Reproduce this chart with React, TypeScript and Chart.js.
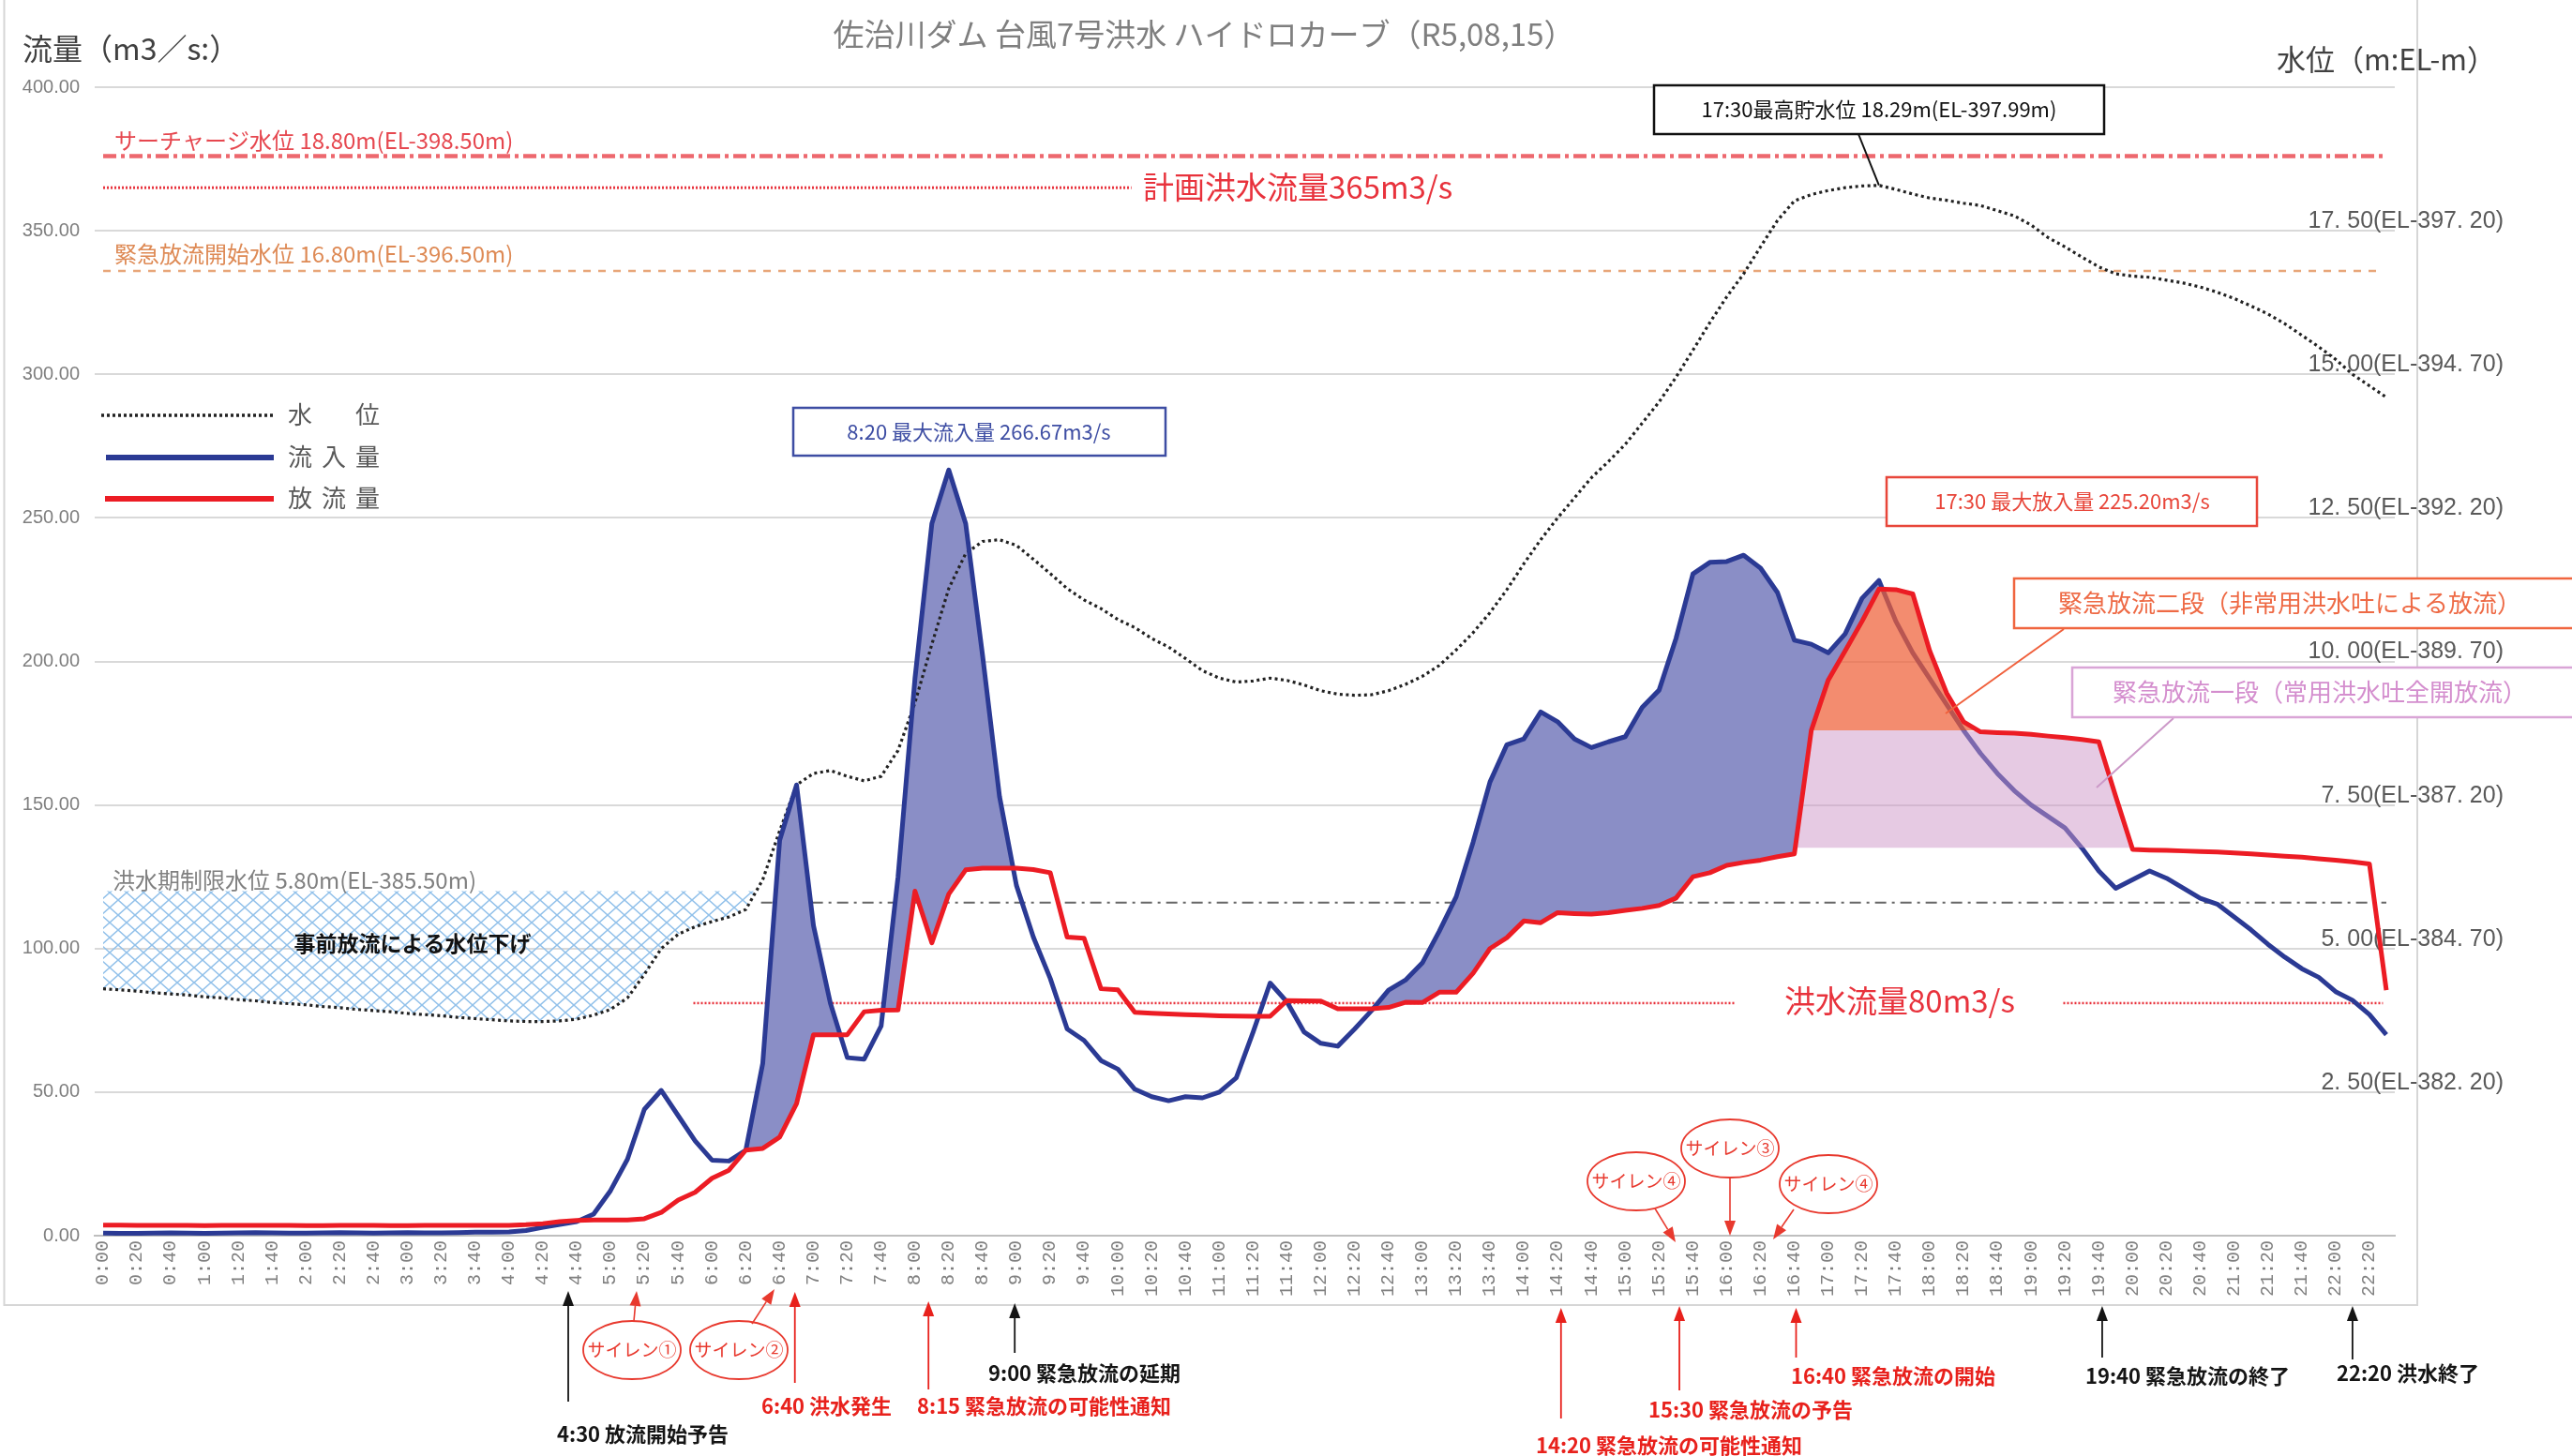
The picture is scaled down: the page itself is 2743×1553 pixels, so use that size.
import React, { useEffect, useRef } from "react";
import { Chart, registerables } from "chart.js";

Chart.register(...registerables);

const CANVAS_W = 2743;
const CANVAS_H = 1553;

// ---------- categories: 10-minute steps 0:00 .. 22:30 ----------
const timeLabels: string[] = [];
for (let h = 0; h <= 22; h++) {
  for (let m = 0; m < 60; m += 10) {
    if (h === 22 && m > 30) break;
    timeLabels.push(`${h}:${m === 0 ? "00" : m}`);
  }
}

// ---------- series (m3/s) ----------
const inflow: number[] = [
  0.9, 0.8, 0.8, 0.9, 1.0, 0.9, 0.8, 0.9, 1.0, 1.1,
  1.0, 0.9, 0.9, 1.0, 1.1, 1.0, 0.9, 1.0, 1.1, 1.0,
  1.0, 1.1, 1.2, 1.2, 1.3, 1.8, 2.9, 3.9, 4.9, 7.5,
  15.7, 26.6, 44.0, 50.6, 41.8, 33.0, 26.3, 26.0, 29.8, 60.0,
  137.7, 157.0, 108.0, 81.0, 62.0, 61.5, 73.0, 125.0, 194.0, 248.0,
  266.67, 248.0, 202.0, 153.0, 122.0, 104.0, 89.6, 72.0, 68.0, 61.0,
  58.0, 51.0, 48.4, 47.0, 48.4, 48.0, 50.0, 55.0, 71.0, 88.0,
  81.4, 71.0, 67.0, 66.0, 72.0, 78.4, 85.5, 89.0, 95.0, 106.0,
  118.0, 137.0, 158.0, 171.0, 173.0, 182.4, 179.0, 173.0, 170.0, 172.0,
  173.8, 184.0, 190.0, 208.0, 230.5, 234.5, 234.8, 237.0, 232.5, 224.0,
  207.4, 206.0, 203.0, 209.6, 222.0, 228.2, 214.0, 203.0, 194.0, 185.0,
  176.0, 168.0, 161.0, 155.0, 150.0, 146.0, 142.0, 135.0, 127.0, 121.0,
  124.0, 127.0, 124.5, 121.0, 117.5, 115.5, 111.0, 106.5, 101.5, 97.0,
  93.0, 90.0, 85.0, 82.0, 77.0, 70.0,
];

const outflow: number[] = [
  3.7, 3.7, 3.6, 3.6, 3.6, 3.6, 3.5, 3.6, 3.6, 3.6,
  3.6, 3.6, 3.5, 3.5, 3.6, 3.6, 3.6, 3.5, 3.5, 3.6,
  3.6, 3.6, 3.6, 3.6, 3.6, 3.8, 4.2, 4.9, 5.3, 5.5,
  5.5, 5.5, 5.9, 8.1, 12.4, 15.1, 20.0, 22.8, 29.8, 30.4,
  34.3, 46.0, 70.0, 70.0, 70.0, 78.0, 78.5, 78.6, 120.0, 102.0,
  119.0, 127.4, 128.0, 128.0, 128.0, 127.5, 126.4, 104.0, 103.6, 86.0,
  85.6, 77.8, 77.5, 77.2, 77.0, 76.8, 76.6, 76.5, 76.4, 76.4,
  81.9, 81.8, 81.7, 79.0, 79.0, 79.0, 79.5, 81.3, 81.2, 84.8,
  84.8, 91.4, 100.0, 103.8, 109.6, 109.0, 112.5, 112.2, 112.0, 112.5,
  113.3, 114.0, 115.0, 117.6, 125.0, 126.4, 129.0, 130.0, 130.8, 132.0,
  133.0, 176.0, 193.5, 203.7, 214.0, 225.2, 225.0, 223.5, 203.7, 189.0,
  179.0, 175.5, 175.2, 175.0, 174.6, 174.0, 173.5, 172.8, 172.0, 153.0,
  134.5, 134.3, 134.2, 134.0, 133.8, 133.6, 133.3, 133.0, 132.6, 132.2,
  131.8, 131.3, 130.8, 130.2, 129.5, 85.5,
];

// water level (m)
const waterLevel: number[] = [
  4.30, 4.28, 4.26, 4.23, 4.21, 4.19, 4.16, 4.14, 4.11, 4.09,
  4.06, 4.04, 4.02, 3.99, 3.97, 3.94, 3.92, 3.90, 3.87, 3.85,
  3.83, 3.80, 3.78, 3.76, 3.74, 3.73, 3.73, 3.74, 3.77, 3.84,
  3.94, 4.14, 4.55, 5.00, 5.25, 5.38, 5.47, 5.55, 5.68, 6.20,
  7.05, 7.85, 8.05, 8.10, 8.00, 7.92, 8.00, 8.45, 9.28, 10.30,
  11.27, 11.88, 12.09, 12.12, 12.02, 11.78, 11.53, 11.27, 11.07, 10.92,
  10.73, 10.59, 10.40, 10.25, 10.05, 9.84, 9.71, 9.64, 9.66, 9.71,
  9.67, 9.59, 9.49, 9.43, 9.41, 9.42, 9.49, 9.60, 9.74, 9.93,
  10.20, 10.50, 10.85, 11.25, 11.70, 12.12, 12.50, 12.85, 13.20, 13.48,
  13.78, 14.15, 14.52, 14.95, 15.42, 15.90, 16.35, 16.75, 17.22, 17.68,
  18.02, 18.13, 18.20, 18.25, 18.28, 18.29, 18.22, 18.14, 18.07, 18.03,
  17.98, 17.94, 17.85, 17.76, 17.60, 17.38, 17.22, 17.04, 16.87, 16.75,
  16.71, 16.69, 16.64, 16.59, 16.52, 16.43, 16.32, 16.19, 16.05, 15.88,
  15.68, 15.48, 15.26, 15.00, 14.80, 14.60,
];

// right-axis tick levels (m) and elevation offset
const rightTickLevels: number[] = [2.5, 5, 7.5, 10, 12.5, 15, 17.5];
const elevationOffset = 379.7;

// shaded periods (category indices)
const inflowShadeWindows: [number, number][] = [[38, 54], [74, 106]];
const emergencyWindow: [number, number] = [100, 120];
const stage2Window: [number, number] = [100, 112];
const stage1Base = 135;
const stage1Top = 176;
const preReleaseWindow: [number, number] = [0, 40];
const preReleaseTopLevel = 6.0;

// reference levels
const surchargeFlow = 376; // 18.80m
const planFloodFlow = 365;
const emergencyStartFlow = 336; // 16.80m
const floodSeasonFlow = 116; // 5.80m
const floodFlow = 81;

const peakLevelIndex = 105;
const peakLevel = 18.29;

// ---------- styles ----------
const JP = '"Noto Sans CJK JP", "Noto Sans", sans-serif';
const RED = "#E8211C";
const BLACK = "#151515";
const BLUE_LINE = "#2B3A94";
const RED_LINE = "#EC1C24";

const inWin = (i: number, w: [number, number]) => i >= w[0] && i <= w[1];

const shadeEdge = inflow.map((v, i) => (inflowShadeWindows.some((w) => inWin(i, w)) ? v : null));
const pinkTop = outflow.map((v, i) => (inWin(i, emergencyWindow) ? Math.min(v, stage1Top) : null));
const pinkBase = outflow.map((_, i) => (inWin(i, emergencyWindow) ? stage1Base : null));
const orangeTop = outflow.map((v, i) => (inWin(i, stage2Window) ? v : null));
const orangeBase = outflow.map((_, i) => (inWin(i, stage2Window) ? stage1Top : null));
const hatchTop = waterLevel.map((_, i) => (inWin(i, preReleaseWindow) ? preReleaseTopLevel : null));

function makeHatch(): any {
  const c = document.createElement("canvas");
  c.width = 18;
  c.height = 16;
  const g = c.getContext("2d")!;
  g.strokeStyle = "#92C1EA";
  g.lineWidth = 1.5;
  g.beginPath();
  g.moveTo(0, 0);
  g.lineTo(18, 16);
  g.moveTo(18, 0);
  g.lineTo(0, 16);
  g.stroke();
  return g.createPattern(c, "repeat");
}

function drawText(ctx: any, s: string, x: number, y: number, font: string, color: string, align: string = "left") {
  ctx.font = font;
  ctx.fillStyle = color;
  ctx.textAlign = align;
  ctx.textBaseline = "middle";
  ctx.fillText(s, x, y);
}

function drawLine(ctx: any, x1: number, y1: number, x2: number, y2: number, color: string, lw: number, dash: number[] = []) {
  ctx.strokeStyle = color;
  ctx.lineWidth = lw;
  ctx.setLineDash(dash);
  ctx.beginPath();
  ctx.moveTo(x1, y1);
  ctx.lineTo(x2, y2);
  ctx.stroke();
  ctx.setLineDash([]);
}

function drawArrow(ctx: any, x1: number, y1: number, x2: number, y2: number, color: string, lw = 1.8) {
  const ang = Math.atan2(y2 - y1, x2 - x1);
  const hl = 16;
  const hw = 6;
  const bx = x2 - hl * Math.cos(ang);
  const by = y2 - hl * Math.sin(ang);
  drawLine(ctx, x1, y1, bx, by, color, lw);
  ctx.fillStyle = color;
  ctx.beginPath();
  ctx.moveTo(x2, y2);
  ctx.lineTo(bx + hw * Math.sin(ang), by - hw * Math.cos(ang));
  ctx.lineTo(bx - hw * Math.sin(ang), by + hw * Math.cos(ang));
  ctx.closePath();
  ctx.fill();
}

const fmtLevel = (v: number) => v.toFixed(2).replace(".", ". ");
const rightLabel = (v: number) => `${fmtLevel(v)}(EL-${fmtLevel(v + elevationOffset)})`;

const refLines = [
  { value: surchargeFlow, from: 0, to: 135, color: "rgba(232,66,74,0.8)", width: 4.5, dash: [14, 5, 4, 5] },
  { value: planFloodFlow, from: 0, to: 60.8, color: "#E8323C", width: 3, dash: [2, 2] },
  { value: emergencyStartFlow, from: 0, to: 134.8, color: "#E8A679", width: 2.5, dash: [8, 8] },
  { value: floodSeasonFlow, from: 38.9, to: 135, color: "#666666", width: 2, dash: [12, 6, 3, 6] },
  { value: floodFlow, from: 34.9, to: 96.5, color: "#E8323C", width: 2.5, dash: [2, 2] },
  { value: floodFlow, from: 115.9, to: 134.8, color: "#E8323C", width: 2.5, dash: [2, 2] },
];

const refLineLabels = [
  { text: "サーチャージ水位 18.80m(EL-398.50m)", x: 122, y: 150, size: 24, color: "#E6474F" },
  { text: "計画洪水流量365m3/s", x: 1219, y: 199, size: 33, color: "#E8323C" },
  { text: "緊急放流開始水位 16.80m(EL-396.50m)", x: 122, y: 271, size: 24, color: "#DE8A55" },
  { text: "洪水期制限水位 5.80m(EL-385.50m)", x: 120, y: 939, size: 24, color: "#808080" },
  { text: "洪水流量80m3/s", x: 1903, y: 1067, size: 33, color: "#E8323C" },
];

const callouts = [
  { text: "17:30最高貯水位 18.29m(EL-397.99m)", x: 1764, y: 91, w: 480, h: 52, color: "#111111", tc: "#111111", tx: 2004, size: 22, lw: 2.5 },
  { text: "8:20 最大流入量 266.67m3/s", x: 846, y: 435, w: 397, h: 51, color: "#3D4DA3", tc: "#3D4DA3", tx: 1044, size: 22, lw: 2.5 },
  { text: "17:30 最大放入量 225.20m3/s", x: 2012, y: 509, w: 395, h: 52, color: "#E8463A", tc: "#E8463A", tx: 2210, size: 22, lw: 2.5 },
  { text: "緊急放流二段（非常用洪水吐による放流）", x: 2148, y: 617, w: 620, h: 53, color: "#F0653F", tc: "#EE6A45", tx: 2442, size: 26, lw: 2.5 },
  { text: "緊急放流一段（常用洪水吐全開放流）", x: 2210, y: 712, w: 560, h: 53, color: "#D9A5D6", tc: "#D48ECE", tx: 2474, size: 26, lw: 2.5 },
];

const eventArrows = [
  { idx: 27.5, y1: 1495, y2: 1377, color: BLACK },
  { idx: 40.9, y1: 1475, y2: 1378, color: RED },
  { idx: 48.8, y1: 1482, y2: 1388, color: RED },
  { idx: 53.9, y1: 1443, y2: 1390, color: BLACK },
  { idx: 86.2, y1: 1513, y2: 1395, color: RED },
  { idx: 93.2, y1: 1483, y2: 1393, color: RED },
  { idx: 100.1, y1: 1448, y2: 1395, color: RED },
  { idx: 118.2, y1: 1448, y2: 1393, color: BLACK },
  { idx: 133.0, y1: 1450, y2: 1393, color: BLACK },
];

const eventTexts = [
  { text: "4:30 放流開始予告", x: 594, y: 1530, color: BLACK },
  { text: "6:40 洪水発生", x: 812, y: 1500, color: RED },
  { text: "8:15 緊急放流の可能性通知", x: 978, y: 1500, color: RED },
  { text: "9:00 緊急放流の延期", x: 1054, y: 1465, color: BLACK },
  { text: "14:20 緊急放流の可能性通知", x: 1638, y: 1542, color: RED },
  { text: "15:30 緊急放流の予告", x: 1758, y: 1504, color: RED },
  { text: "16:40 緊急放流の開始", x: 1910, y: 1468, color: RED },
  { text: "19:40 緊急放流の終了", x: 2224, y: 1468, color: BLACK },
  { text: "22:20 洪水終了", x: 2492, y: 1465, color: BLACK },
];

const sirens = [
  { text: "サイレン①", cx: 674, cy: 1440, ax1: 676, ay1: 1409, ax2: 679, ay2: 1377 },
  { text: "サイレン②", cx: 788, cy: 1440, ax1: 802, ay1: 1412, ax2: 826, ay2: 1375 },
  { text: "サイレン④", cx: 1745, cy: 1260, ax1: 1765, ay1: 1289, ax2: 1787, ay2: 1325 },
  { text: "サイレン③", cx: 1845, cy: 1225, ax1: 1845, ay1: 1256, ax2: 1845, ay2: 1318 },
  { text: "サイレン④", cx: 1950, cy: 1263, ax1: 1913, ay1: 1290, ax2: 1891, ay2: 1322 },
];

const legendItems = [
  { chars: ["水", "", "位"], y: 443, color: "#222222", width: 3.5, dash: [3, 3], x1: 108 },
  { chars: ["流", "入", "量"], y: 488, color: BLUE_LINE, width: 6, dash: [], x1: 113 },
  { chars: ["放", "流", "量"], y: 532, color: RED_LINE, width: 6, dash: [], x1: 112 },
];

const chartTitle = "佐治川ダム 台風7号洪水 ハイドロカーブ（R5,08,15）";
const leftAxisTitle = "流量（m3／s:）";
const rightAxisTitle = "水位（m:EL-m）";

const damPlugin = {
  id: "damAnnotations",
  beforeDraw(chart: any) {
    const ctx = chart.ctx;
    ctx.save();
    ctx.fillStyle = "#ffffff";
    ctx.fillRect(0, 0, chart.width, chart.height);
    ctx.strokeStyle = "#D6D6D6";
    ctx.lineWidth = 2;
    ctx.strokeRect(4.5, -4, 2578 - 4.5, 1392 + 4);
    ctx.restore();
  },
  beforeDatasetsDraw(chart: any) {
    const { ctx } = chart;
    const { x, y, y2 } = chart.scales;
    ctx.save();
    rightTickLevels.forEach((v) =>
      drawText(ctx, rightLabel(v), 2670, y2.getPixelForValue(v) - 10, '25px "Liberation Sans", Arial, sans-serif', "#595959", "right")
    );
    refLines.forEach((l) => {
      const yy = y.getPixelForValue(l.value);
      drawLine(ctx, x.getPixelForValue(l.from), yy, x.getPixelForValue(l.to), yy, l.color, l.width, l.dash);
    });
    ctx.restore();
  },
  afterDatasetsDraw(chart: any) {
    const { ctx } = chart;
    const { x, y2 } = chart.scales;
    ctx.save();
    ctx.setLineDash([]);

    drawText(ctx, chartTitle, 1284, 36, `33px ${JP}`, "#7F7F7F", "center");
    drawText(ctx, leftAxisTitle, 24, 52, `32px ${JP}`, "#404040");
    drawText(ctx, rightAxisTitle, 2428, 63, `31px ${JP}`, "#404040");

    refLineLabels.forEach((l) => drawText(ctx, l.text, l.x, l.y, `${l.size}px ${JP}`, l.color));

    drawText(ctx, "事前放流による水位下げ", 440, 1006, `bold 23px ${JP}`, "#111111", "center");

    legendItems.forEach((it) => {
      drawLine(ctx, it.x1, it.y, 292, it.y, it.color, it.width, it.dash);
      it.chars.forEach((c, k) => {
        if (c) drawText(ctx, c, 307 + k * 36, it.y - 1, `26px ${JP}`, "#595959");
      });
    });

    // leader lines
    drawLine(ctx, 1982, 143, x.getPixelForValue(peakLevelIndex), y2.getPixelForValue(peakLevel), "#111111", 2);
    drawLine(ctx, 2201, 671, 2075, 761, "#F0603C", 2);
    drawLine(ctx, 2318, 766, 2236, 840, "#CC99C8", 2);

    callouts.forEach((c) => {
      ctx.fillStyle = "#ffffff";
      ctx.fillRect(c.x, c.y, c.w, c.h);
      ctx.strokeStyle = c.color;
      ctx.lineWidth = c.lw;
      ctx.strokeRect(c.x, c.y, c.w, c.h);
      drawText(ctx, c.text, c.tx, c.y + c.h / 2, `${c.size}px ${JP}`, c.tc, "center");
    });

    eventArrows.forEach((a) => {
      const ax = x.getPixelForValue(a.idx);
      drawArrow(ctx, ax, a.y1, ax, a.y2, a.color, 1.8);
    });
    eventTexts.forEach((t) => drawText(ctx, t.text, t.x, t.y, `bold 22px ${JP}`, t.color));

    sirens.forEach((s) => {
      ctx.strokeStyle = "#E8392E";
      ctx.lineWidth = 1.8;
      ctx.beginPath();
      ctx.ellipse(s.cx, s.cy, 52, 31, 0, 0, Math.PI * 2);
      ctx.stroke();
      drawText(ctx, s.text, s.cx, s.cy, `19px ${JP}`, "#E8392E", "center");
      drawArrow(ctx, s.ax1, s.ay1, s.ax2, s.ay2, "#E8392E", 1.6);
    });

    ctx.restore();
  },
};

export default function App() {
  const ref = useRef<HTMLCanvasElement | null>(null);

  useEffect(() => {
    const canvas = ref.current;
    if (!canvas) return;
    const hatch = makeHatch();
    const none = "rgba(0,0,0,0)";
    const common = { pointRadius: 0, pointHoverRadius: 0, tension: 0, spanGaps: false };

    const chart = new Chart(canvas, {
      type: "line",
      data: {
        labels: timeLabels,
        datasets: [
          { ...common, label: "流入量", data: inflow, yAxisID: "y", borderColor: BLUE_LINE, borderWidth: 5, borderJoinStyle: "round", fill: false, order: 6 } as any,
          { ...common, label: "放流量", data: outflow, yAxisID: "y", borderColor: RED_LINE, borderWidth: 5, borderJoinStyle: "round", fill: false, order: 1 } as any,
          { ...common, label: "水位", data: waterLevel, yAxisID: "y2", borderColor: "#222222", borderWidth: 3.2, borderDash: [3, 3.5], fill: false, order: 7 } as any,
          { ...common, label: "shade", data: shadeEdge, yAxisID: "y", borderColor: none, borderWidth: 0, fill: { target: 1, above: "#8A8EC6", below: none }, order: 8 } as any,
          { ...common, label: "stage1", data: pinkTop, yAxisID: "y", borderColor: none, borderWidth: 0, fill: { target: 5, above: "rgba(205,150,200,0.5)", below: none }, order: 5 } as any,
          { ...common, label: "stage1base", data: pinkBase, yAxisID: "y", borderColor: none, borderWidth: 0, fill: false, order: 10 } as any,
          { ...common, label: "stage2", data: orangeTop, yAxisID: "y", borderColor: none, borderWidth: 0, fill: { target: 7, above: "rgba(238,95,55,0.72)", below: none }, order: 4 } as any,
          { ...common, label: "stage2base", data: orangeBase, yAxisID: "y", borderColor: none, borderWidth: 0, fill: false, order: 10 } as any,
          { ...common, label: "prerelease", data: hatchTop, yAxisID: "y2", borderColor: none, borderWidth: 0, fill: { target: 2, above: hatch, below: none }, order: 9 } as any,
        ],
      },
      options: {
        animation: false,
        responsive: false,
        maintainAspectRatio: false,
        devicePixelRatio: 1,
        events: [],
        layout: { padding: { left: 0, right: 189, top: 93, bottom: 0 } },
        plugins: {
          legend: { display: false },
          tooltip: { enabled: false },
          title: { display: false },
        },
        scales: {
          x: {
            type: "category",
            offset: true,
            grid: { display: false, drawTicks: false },
            border: { display: true, color: "#BFBFBF", width: 2 },
            ticks: {
              autoSkip: false,
              maxRotation: 90,
              minRotation: 90,
              padding: 5,
              color: "#808080",
              font: { family: '"Liberation Mono", "DejaVu Sans Mono", monospace', size: 20 },
              callback: (_v: any, idx: number) => (idx % 2 === 0 ? timeLabels[idx] : ""),
            },
            afterFit: (s: any) => {
              s.height = 235;
            },
          },
          y: {
            min: 0,
            max: 400,
            grid: {
              color: (c: any) => (c.tick && c.tick.value === 0 ? "#BFBFBF" : "#D9D9D9"),
              lineWidth: 2,
              drawTicks: false,
            },
            border: { display: false },
            ticks: {
              stepSize: 50,
              padding: 16,
              color: "#7F7F7F",
              font: { family: '"Liberation Sans", Arial, sans-serif', size: 20 },
              callback: (v: any) => Number(v).toFixed(2),
            },
            afterFit: (s: any) => {
              s.width = 101;
            },
          },
          y2: { display: false, position: "right", min: 0, max: 20 },
        },
      } as any,
      plugins: [damPlugin as any],
    });

    return () => chart.destroy();
  }, []);

  return (
    <div style={{ position: "fixed", left: 0, top: 0, width: CANVAS_W, height: CANVAS_H, background: "#ffffff" }}>
      <canvas ref={ref} width={CANVAS_W} height={CANVAS_H} style={{ display: "block", width: CANVAS_W, height: CANVAS_H }} />
    </div>
  );
}
